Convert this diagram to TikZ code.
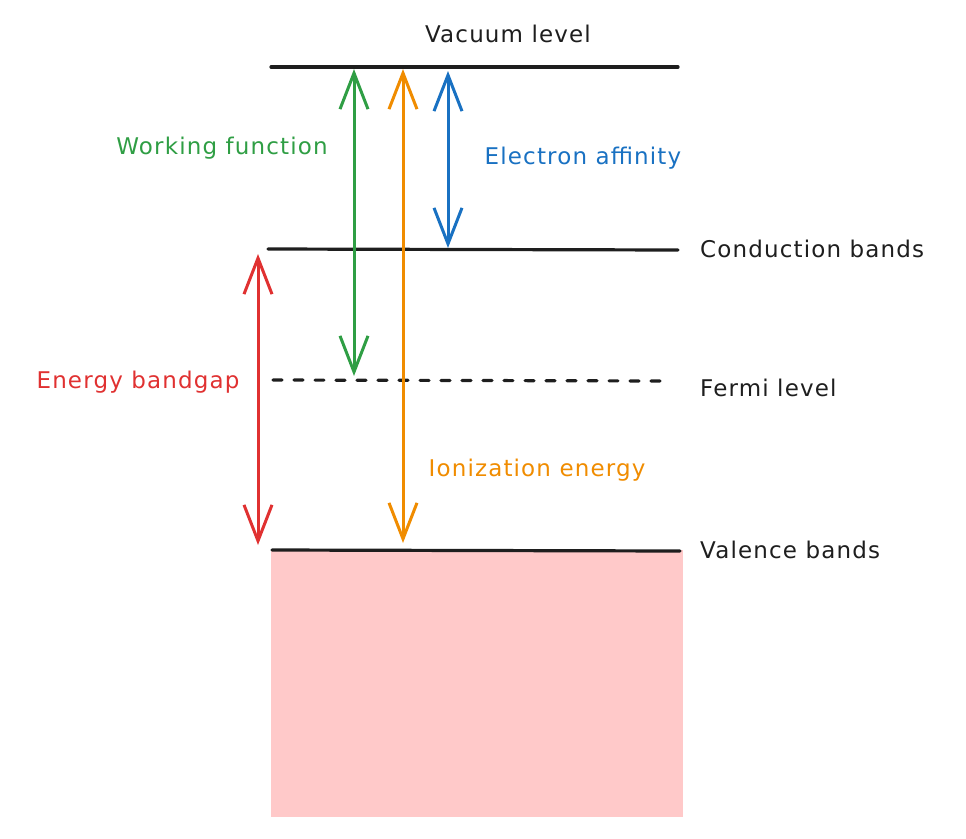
\documentclass[tikz,border=0pt]{standalone}
\usepackage{fontspec}
\setmainfont{DejaVu Sans}[LetterSpace=5]
\usetikzlibrary{arrows.meta}
\definecolor{ink}{HTML}{1E1E1E}
\definecolor{cgreen}{HTML}{2F9E44}
\definecolor{corange}{HTML}{F08C00}
\definecolor{cblue}{HTML}{1971C2}
\definecolor{cred}{HTML}{E03131}
\definecolor{cpink}{HTML}{FFC9C9}
\tikzset{
  level/.style={draw=ink, line width=3.2pt, line cap=round},
  fermi/.style={level, dash pattern=on 9pt off 12pt},
  lbl/.style={font=\fontsize{23}{26}\selectfont, inner sep=0pt},
  dbl/.style={line width=3pt, line cap=round, line join=round,
    {Straight Barb[length=36pt,width=28pt,line width=3pt]}-{Straight Barb[length=36pt,width=28pt,line width=3pt]}}
}
\begin{document}
\begin{tikzpicture}[x=1pt,y=-1pt]
\useasboundingbox (0,0) rectangle (966,838);
% valence band fill
\fill[cpink] (271,550) rectangle (683,817);
% levels
\coordinate (vacL) at (271,67);  \coordinate (vacR) at (678,67);
\coordinate (conL) at (268,249); \coordinate (conR) at (678,250);
\coordinate (ferL) at (273,380); \coordinate (ferR) at (668,381);
\coordinate (valL) at (272,550); \coordinate (valR) at (680,551);
\draw[level] (vacL) -- (vacR);
\draw[level] (conL) -- (conR);
\draw[fermi] (ferL) -- (ferR);
\draw[level] (valL) -- (valR);
% level labels
\node[lbl, text=ink] (vac) at (508,34) {Vacuum level};
\node[lbl, text=ink, anchor=west] (con) at (700,249) {Conduction bands};
\node[lbl, text=ink, anchor=west] (fer) at (700,388) {Fermi level};
\node[lbl, text=ink, anchor=west] (val) at (700,550) {Valence bands};
% arrow endpoints
\coordinate (gT) at (354,69);  \coordinate (gB) at (354,376);
\coordinate (oT) at (403,69);  \coordinate (oB) at (403,543);
\coordinate (bT) at (448,71);  \coordinate (bB) at (448,248);
\coordinate (rT) at (258,254); \coordinate (rB) at (258,545);
\draw[dbl, draw=cgreen] (gT) -- (gB);
\draw[dbl, draw=corange] (oT) -- (oB);
\draw[dbl, draw=cblue] (bT) -- (bB);
\draw[dbl, draw=cred] (rT) -- (rB);
% arrow labels
\node[lbl, text=cgreen] (wf) at (222,148) {Working function};
\node[lbl, text=cblue] (ea) at (583,158) {Electron affinity};
\node[lbl, text=cred] (eb) at (138,382) {Energy bandgap};
\node[lbl, text=corange] (ie) at (537,470) {Ionization energy};
\end{tikzpicture}
\end{document}
